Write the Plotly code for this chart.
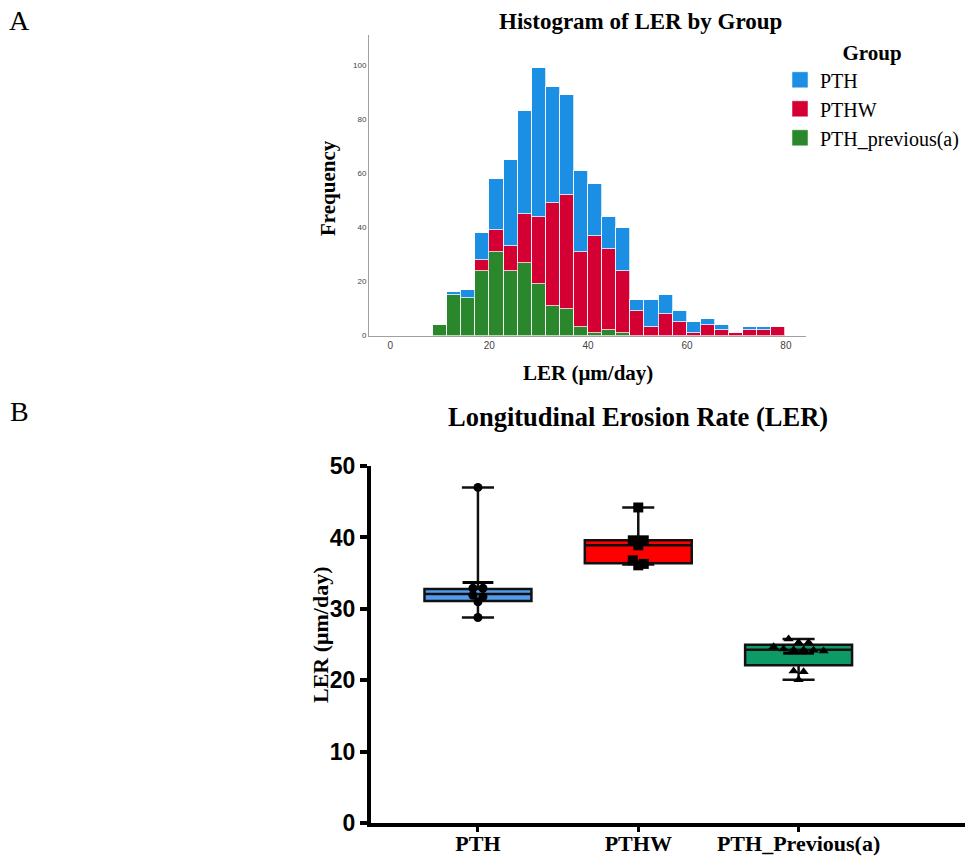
import plotly.graph_objects as go

W, H = 967, 857

# ---------------- Panel A: stacked histogram data ----------------
bin_start = 8.65
bin_width = 2.85
green_counts = [4, 15, 14, 24, 31, 24, 27, 19, 11, 10, 3, 1, 2, 1, 0, 0, 0, 0, 0, 0, 0, 0, 0, 0, 0]
red_counts = [0, 0, 0, 4, 8, 9, 18, 25, 38, 42, 28, 36, 30, 23, 9, 3, 8, 5, 1, 4, 2, 1, 2, 2, 3]
blue_counts = [0, 1, 3, 10, 19, 32, 38, 55, 43, 37, 30, 19, 12, 16, 4, 10, 7, 4, 4, 2, 2, 0, 1, 1, 0]
hist_groups = ["PTH", "PTHW", "PTH_previous(a)"]
hist_colors = ["#1a8fe3", "#d40034", "#2a872b"]
hist_xticks = [0, 20, 40, 60, 80]
hist_yticks = [0, 20, 40, 60, 80, 100]

# ---------------- Panel B: box plot data ----------------
box_groups = ["PTH", "PTHW", "PTH_Previous(a)"]
box_q1 = [31.1, 36.4, 22.1]
box_median = [32.1, 38.9, 24.3]
box_q3 = [32.8, 39.6, 25.0]
box_lower = [28.8, 36.2, 20.1]
box_upper = [47.0, 44.2, 25.8]
box_inner_cap = [33.7, None, 23.8]
box_colors = ["#529cef", "#ff0000", "#0e9a66"]
pth_points = [47.0, 32.9, 32.9, 31.9, 31.7, 31.0, 28.8]
pthw_points = [44.2, 39.6, 39.6, 38.9, 36.8, 36.3, 36.1]
prev_points = [25.8, 25.3, 25.3, 24.7, 24.4, 24.3, 24.3, 24.2, 24.1, 21.3, 21.2, 20.1]
box_yticks = [0, 10, 20, 30, 40, 50]

# ---------------- layout geometry ----------------
hx_dom = [369 / W, 806 / W]
hy_dom = [1 - 335.5 / H, 1 - 35 / H]
hx_rng = [-4.31, 84.06]
hy_rng = [0, 111.3]

bx_dom = [370.7 / W, 965 / W]
by_dom = [1 - 823.3 / H, 1 - 466 / H]
bx_rng = [-0.669, 3.038]
by_rng = [0, 50]
bx_px_per_unit = (bx_dom[1] - bx_dom[0]) * W / (bx_rng[1] - bx_rng[0])

fig = go.Figure()

# histogram (stacked: green bottom, red, blue top)
centers = [bin_start + bin_width * (i + 0.5) for i in range(len(green_counts))]
for name, counts, col in [(hist_groups[2], green_counts, hist_colors[2]),
                          (hist_groups[1], red_counts, hist_colors[1]),
                          (hist_groups[0], blue_counts, hist_colors[0])]:
    fig.add_trace(go.Bar(x=centers, y=counts, width=bin_width, name=name,
                         marker=dict(color=col, line=dict(color="rgba(255,255,255,0.75)", width=1)),
                         showlegend=False, xaxis="x", yaxis="y", hoverinfo="skip"))

# legend proxies
for name, col in zip(hist_groups, hist_colors):
    fig.add_trace(go.Scatter(x=[None], y=[None], mode="markers", name=name,
                             marker=dict(symbol="square", size=19, color=col,
                                         line=dict(color="rgba(255,255,255,0.5)", width=1)),
                             xaxis="x", yaxis="y"))

# boxes
for i, g in enumerate(box_groups):
    fig.add_trace(go.Box(x=[i], q1=[box_q1[i]], median=[box_median[i]], q3=[box_q3[i]],
                         lowerfence=[box_lower[i]], upperfence=[box_upper[i]],
                         fillcolor=box_colors[i], line=dict(color="#111111", width=2.5),
                         width=0.667, whiskerwidth=0.3, boxpoints=False,
                         showlegend=False, xaxis="x2", yaxis="y2", hoverinfo="skip"))

# narrow inner caps
cap_x = [i for i, v in enumerate(box_inner_cap) if v is not None]
cap_y = [v for v in box_inner_cap if v is not None]
fig.add_trace(go.Scatter(x=cap_x, y=cap_y, mode="markers",
                         marker=dict(symbol="line-ew", size=22, line=dict(color="black", width=3)),
                         showlegend=False, xaxis="x2", yaxis="y2", hoverinfo="skip"))


def row_offsets(vals, thresh, spacing_px):
    order = sorted(range(len(vals)), key=lambda k: -vals[k])
    offs = [0.0] * len(vals)
    rows, cur = [], []
    for k in order:
        if cur and vals[cur[0]] - vals[k] > thresh:
            rows.append(cur)
            cur = []
        cur.append(k)
    rows.append(cur)
    for r in rows:
        n = len(r)
        for j, k in enumerate(r):
            offs[k] = (j - (n - 1) / 2) * spacing_px / bx_px_per_unit
    return offs


for i, (pts, sym, size, sp) in enumerate([(pth_points, "circle", 9, 10),
                                          (pthw_points, "square", 10, 11),
                                          (prev_points, "triangle-up", 9, 10)]):
    offs = row_offsets(pts, 0.65, sp)
    fig.add_trace(go.Scatter(x=[i + o for o in offs], y=pts, mode="markers",
                             marker=dict(symbol=sym, size=size, color="black"),
                             showlegend=False, xaxis="x2", yaxis="y2", hoverinfo="skip"))

serif = "Liberation Serif"


def ann(text, x, y, size, bold=True, angle=0):
    return dict(text=text, x=x / W, y=1 - y / H, xref="paper", yref="paper", showarrow=False,
                xanchor="center", yanchor="middle", textangle=angle,
                font=dict(family=serif, size=size, color="black",
                          weight="bold" if bold else "normal"))


fig.update_layout(
    width=W, height=H, autosize=False,
    margin=dict(l=0, r=0, t=0, b=0, autoexpand=False),
    paper_bgcolor="white", plot_bgcolor="white",
    barmode="stack", bargap=0,
    showlegend=True,
    legend=dict(x=780 / W, y=1 - 33 / H, xanchor="left", yanchor="top",
                bgcolor="rgba(0,0,0,0)", itemsizing="trace", traceorder="normal",
                font=dict(family=serif, size=20, color="black"),
                title=dict(text="Group", side="top center",
                           font=dict(family=serif, size=21, color="black", weight="bold"))),
    xaxis=dict(domain=hx_dom, range=hx_rng, anchor="y", showline=True, linecolor="#a0a0a0",
               linewidth=1, showgrid=False, zeroline=False, tickvals=hist_xticks, ticks="",
               tickfont=dict(family="Arial", size=10, color="#444")),
    yaxis=dict(domain=hy_dom, range=hy_rng, anchor="x", showline=True, linecolor="#a0a0a0",
               linewidth=1, showgrid=False, zeroline=False, tickvals=hist_yticks, ticks="",
               tickfont=dict(family="Arial", size=8, color="#444")),
    xaxis2=dict(domain=bx_dom, range=bx_rng, anchor="y2", showline=True, linecolor="black",
                linewidth=3.5, showgrid=False, zeroline=False, tickvals=[0, 1, 2],
                ticktext=box_groups, ticks="outside", ticklen=5, tickwidth=3, tickcolor="black",
                ticklabelstandoff=-7,
                tickfont=dict(family=serif, size=22, color="black", weight="bold")),
    yaxis2=dict(domain=by_dom, range=by_rng, anchor="x2", showline=True, linecolor="black",
                linewidth=3.5, showgrid=False, zeroline=False, tickvals=box_yticks,
                ticks="outside", ticklen=7, tickwidth=3.5, tickcolor="black",
                tickfont=dict(family="Arial", size=23, color="black", weight="bold")),
    annotations=[
        ann("A", 19, 20, 28, bold=False),
        ann("B", 19, 412, 28, bold=False),
        ann("Histogram of LER by Group", 640, 22, 23),
        ann("Frequency", 328, 188, 21, angle=-90),
        ann("LER (μm/day)", 588, 373, 21),
        ann("Longitudinal Erosion Rate (LER)", 638, 417, 26.5),
        ann("LER (μm/day)", 320, 635, 22, angle=-90),
    ],
)

fig.write_html("out.html")
